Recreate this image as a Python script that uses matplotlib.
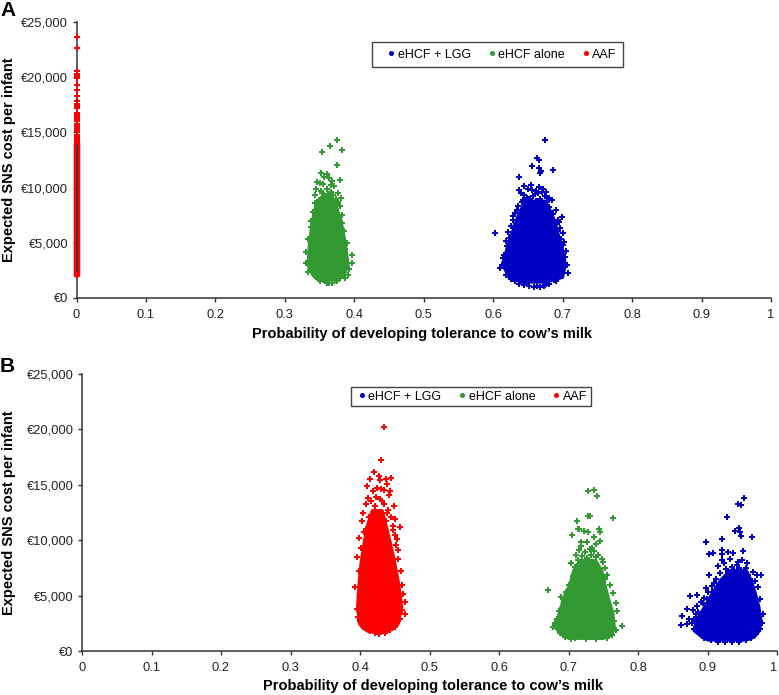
import matplotlib
matplotlib.use('Agg')
import matplotlib.pyplot as plt
from matplotlib.ticker import FuncFormatter

plt.rcParams['font.family'] = ['Liberation Sans', 'DejaVu Sans']

BLUE = '#0000C4'
GREEN = '#339933'
RED = '#FF0000'

tick_x = [0, 0.1, 0.2, 0.3, 0.4, 0.5, 0.6, 0.7, 0.8, 0.9, 1]
tick_y = [0, 5000, 10000, 15000, 20000, 25000]
series_names = ['eHCF + LGG', 'eHCF alone', 'AAF']

# The clouds hold thousands of overlapping points that can't be read one by one.
# The solid middle is kept as read extents (cost, left, right), the loose points are read singly.

# panel A
a_lgg_cost = [1500, 1930, 3140, 4650, 6160, 7600, 8800]
a_lgg_left = [0.640, 0.622, 0.613, 0.620, 0.628, 0.636, 0.646]
a_lgg_right = [0.675, 0.699, 0.703, 0.698, 0.691, 0.684, 0.674]
a_lgg_x = [0.675, 0.663, 0.666, 0.656, 0.666, 0.669, 0.667, 0.686, 0.637, 0.603,
           0.645, 0.650, 0.655, 0.662, 0.671, 0.676, 0.640, 0.637, 0.681, 0.684,
           0.690, 0.699, 0.695, 0.628, 0.632, 0.636, 0.642, 0.650, 0.680, 0.692,
           0.700, 0.705, 0.697, 0.612, 0.610, 0.614, 0.620, 0.618, 0.622, 0.625,
           0.706, 0.708, 0.704, 0.700, 0.694, 0.640, 0.648, 0.663, 0.675, 0.690,
           0.645, 0.652, 0.660, 0.668, 0.674, 0.638, 0.633, 0.656, 0.664, 0.670,
           0.648, 0.643, 0.654, 0.661, 0.669, 0.677, 0.682, 0.630, 0.626, 0.623,
           0.616, 0.628, 0.634, 0.657, 0.653, 0.666, 0.686, 0.693, 0.696, 0.702,
           0.619, 0.625, 0.631, 0.637, 0.644, 0.651, 0.659, 0.667, 0.673, 0.680,
           0.688]
a_lgg_y = [14290, 12680, 12470, 11960, 11810, 11480, 11325, 11600, 10960, 5860,
           10100, 9900, 10200, 9700, 9900, 9600, 9500, 9800, 9100, 8900,
           8000, 7300, 6900, 7100, 7700, 8300, 8700, 8500, 8200, 6800,
           5900, 4300, 5300, 3000, 2700, 3600, 4700, 5200, 6000, 6500,
           3000, 2300, 3700, 4800, 6100, 1500, 1250, 1100, 1150, 1500,
           9300, 9000, 9400, 9000, 9200, 7300, 6700, 9800, 9500, 9600,
           9100, 8900, 8600, 8800, 8500, 8700, 7900, 6300, 5700, 5400,
           3900, 7400, 8000, 9200, 8900, 10050, 7600, 7100, 6300, 5100,
           2100, 1750, 1500, 1300, 1200, 1050, 1000, 1000, 1100, 1300,
           1650]

a_alone_cost = [1700, 2100, 3000, 5000, 7000, 8600, 9300]
a_alone_left = [0.348, 0.340, 0.333, 0.335, 0.339, 0.345, 0.354]
a_alone_right = [0.372, 0.384, 0.390, 0.386, 0.380, 0.372, 0.364]
a_alone_x = [0.3744, 0.3648, 0.3533, 0.383, 0.3744, 0.3518, 0.3614, 0.3570, 0.3634, 0.3680,
             0.3796, 0.3470, 0.3450, 0.3500, 0.3555, 0.3660, 0.3710, 0.3770, 0.3810, 0.3440,
             0.3430, 0.3400, 0.3370, 0.3340, 0.3310, 0.3300, 0.3330, 0.3850, 0.3890, 0.3960,
             0.3965, 0.3930, 0.3910, 0.3870, 0.3640, 0.3580, 0.3720, 0.3480, 0.3820, 0.3790,
             0.3520, 0.3540, 0.3600, 0.3620, 0.3670, 0.3700, 0.3740, 0.3760, 0.3490, 0.3460,
             0.3420, 0.3380, 0.3360, 0.3830, 0.3860, 0.3880, 0.3500, 0.3550, 0.3600, 0.3680,
             0.3750, 0.3800, 0.3440, 0.3390]
a_alone_y = [14340, 13740, 13260, 13410, 12050, 11350, 11250, 10950, 10900, 10600,
             10700, 10500, 9900, 10400, 10300, 10200, 10100, 9500, 9100, 9300,
             8600, 7800, 7000, 5300, 4200, 3200, 2400, 6100, 5000, 3900,
             3160, 2600, 2100, 1850, 1400, 1500, 1600, 1750, 7500, 8300,
             9700, 9500, 9900, 9400, 9600, 9300, 9000, 8700, 8900, 8500,
             7200, 6400, 3700, 6800, 4400, 3400, 1500, 1650, 1350, 1400,
             1550, 1850, 1950, 2400]

a_aaf_cost = [2100, 14000]
a_aaf_left = [-0.002, -0.002]
a_aaf_right = [0.002, 0.002]
a_aaf_x = [0] * 29
a_aaf_y = [14200, 14400, 14600, 14800, 15000, 15200, 15400, 15600, 15800, 16000,
           16200, 16400, 16600, 16800, 17200, 17400, 17600, 17800, 18300, 18800,
           19300, 19900, 20100, 20300, 20600, 22600, 23600, 14100, 2100]

# panel B
b_lgg_cost = [1050, 1300, 1900, 2800, 4000, 5200, 6400, 7300]
b_lgg_left = [0.900, 0.892, 0.880, 0.884, 0.895, 0.906, 0.918, 0.932]
b_lgg_right = [0.955, 0.966, 0.974, 0.976, 0.973, 0.968, 0.962, 0.955]
b_lgg_x = [0.9525, 0.9439, 0.9482, 0.9285, 0.9454, 0.94, 0.9468, 0.9477, 0.9645, 0.9215,
           0.8978, 0.9021, 0.908, 0.9209, 0.9209, 0.9209, 0.93, 0.9372, 0.9324, 0.9515,
           0.9492, 0.9573, 0.9707, 0.9765, 0.8978, 0.9027, 0.8753, 0.8854, 0.87, 0.8633,
           0.8619, 0.871, 0.8790, 0.8740, 0.9060, 0.9120, 0.9180, 0.9260, 0.9100, 0.9000,
           0.8900, 0.8850, 0.8950, 0.9420, 0.9550, 0.9660, 0.9720, 0.9690, 0.9800, 0.9760,
           0.9350, 0.9440, 0.9150, 0.9240, 0.9580, 0.9640, 0.8840, 0.8800, 0.9300, 0.9380,
           0.9460, 0.9520, 0.9280, 0.9210, 0.9130, 0.9070, 0.8990, 0.8930, 0.8870, 0.8830,
           0.8770, 0.8800, 0.8890, 0.8950, 0.9050, 0.9150, 0.9250, 0.9350, 0.9450, 0.9550,
           0.9620, 0.9700, 0.9750, 0.9780]
b_lgg_y = [13840, 13240, 13150, 12120, 11130, 10830, 10770, 10380, 10260, 10080,
           9810, 8790, 8850, 9090, 8720, 8210, 8960, 8870, 8300, 8990,
           8210, 7910, 6860, 6860, 5660, 6860, 4960, 5090, 3760, 3150,
           2340, 2400, 3700, 2900, 5900, 6500, 7000, 7400, 6100, 5300,
           4400, 4100, 4800, 7800, 7500, 7100, 5800, 6300, 3300, 4700,
           7600, 8000, 7700, 7900, 6900, 6300, 3300, 2900, 7000, 7300,
           7500, 7000, 6700, 6300, 5800, 5300, 4700, 4300, 3500, 3000,
           2500, 1950, 1500, 1200, 1000, 850, 800, 800, 850, 950,
           1150, 1500, 2000, 2500]

b_alone_cost = [1200, 1500, 2200, 3400, 4900, 6100, 7300, 8200]
b_alone_left = [0.700, 0.690, 0.680, 0.686, 0.693, 0.702, 0.707, 0.716]
b_alone_right = [0.750, 0.762, 0.765, 0.763, 0.756, 0.751, 0.747, 0.738]
b_alone_x = [0.728, 0.7363, 0.7415, 0.7285, 0.731, 0.7636, 0.7118, 0.7131, 0.7155, 0.7055,
             0.7217, 0.7286, 0.7443, 0.7458, 0.7372, 0.7183, 0.7271, 0.746, 0.7394, 0.670,
             0.7775, 0.7036, 0.6970, 0.6890, 0.6860, 0.6930, 0.6830, 0.7000, 0.7070, 0.7040,
             0.7110, 0.7150, 0.7240, 0.7310, 0.7360, 0.7420, 0.7480, 0.7520, 0.7550, 0.7590,
             0.7640, 0.7680, 0.7700, 0.7660, 0.7680, 0.7130, 0.7200, 0.7500, 0.7340, 0.7180,
             0.7260, 0.7330, 0.7400, 0.7090, 0.7450, 0.7520, 0.6960, 0.6900, 0.6800, 0.6780,
             0.6880, 0.6950, 0.7100, 0.7250, 0.7400, 0.7550, 0.7630]
b_alone_y = [14470, 14530, 13950, 12150, 12150, 11970, 11700, 11000, 11000, 10500,
             10830, 10710, 11030, 10710, 10320, 9810, 9870, 9920, 9650, 5530,
             2220, 1083, 5300, 4900, 3600, 4500, 2900, 6000, 6800, 7900,
             8700, 9100, 8900, 9200, 9000, 8700, 8300, 7500, 6900, 6000,
             5200, 4300, 3600, 2700, 1900, 8200, 8600, 8000, 9300, 9500,
             8400, 8700, 8500, 7600, 7400, 6500, 4700, 3900, 2500, 2200,
             1600, 1300, 1150, 1100, 1100, 1150, 1400]

b_aaf_cost = [1800, 2100, 2500, 4000, 6000, 8000, 10000, 11500, 12700]
b_aaf_left = [0.412, 0.404, 0.399, 0.396, 0.398, 0.401, 0.406, 0.411, 0.417]
b_aaf_right = [0.438, 0.448, 0.454, 0.459, 0.455, 0.449, 0.442, 0.436, 0.431]
b_aaf_x = [0.435, 0.430, 0.4446, 0.4374, 0.4288, 0.4384, 0.4432, 0.43, 0.4417, 0.4494,
           0.4317, 0.4400, 0.4510, 0.4576, 0.4652, 0.4648, 0.4586, 0.4551, 0.4530, 0.4600,
           0.4620, 0.4440, 0.4500, 0.4150, 0.4200, 0.4100, 0.4180, 0.4230, 0.4080, 0.4050,
           0.4030, 0.3990, 0.3960, 0.3930, 0.3950, 0.4120, 0.4250, 0.4270, 0.4350, 0.4480,
           0.4160, 0.4220, 0.4290, 0.4340, 0.4390, 0.4130, 0.4090, 0.4060, 0.4010, 0.3980,
           0.3970, 0.4000, 0.4070, 0.4140, 0.4210, 0.4280, 0.4360, 0.4430, 0.4500, 0.4570,
           0.4610, 0.4470, 0.4520, 0.4540, 0.4380]
b_aaf_y = [20190, 17260, 15640, 15550, 15400, 15070, 14440, 14620, 14080, 13090,
           13540, 12700, 11900, 11220, 3310, 4400, 7250, 9090, 10100, 6000,
           5100, 12100, 10500, 15500, 16200, 14900, 14400, 13900, 13300, 12500,
           11700, 10200, 8500, 5800, 3800, 13800, 14700, 15800, 13300, 11300,
           13500, 13100, 13700, 14500, 12500, 12100, 11000, 10700, 9300, 7200,
           3100, 2700, 2200, 1800, 1600, 1550, 1650, 1900, 2200, 2900,
           3700, 10900, 9600, 8300, 11700]


def draw_panel(ax, clouds):
    for cost, left, right, px, py, colour in clouds:
        ax.fill_betweenx(cost, left, right, color=colour, linewidth=2.5, clip_on=False, zorder=2)
        ax.scatter(px, py, marker='P', s=17, color=colour, linewidths=0, clip_on=False, zorder=3)


def style_axes(ax):
    ax.set_xlim(0, 1)
    ax.set_ylim(0, 25000)
    ax.set_xticks(tick_x)
    ax.set_xticklabels([str(t) for t in tick_x])
    ax.set_yticks(tick_y)
    ax.yaxis.set_major_formatter(FuncFormatter(lambda v, p: '€{:,.0f}'.format(v)))
    for side in ['top', 'right']:
        ax.spines[side].set_visible(False)
    for side in ['left', 'bottom']:
        ax.spines[side].set_linewidth(1.1)
        ax.spines[side].set_color('#333333')
    ax.tick_params(axis='both', labelsize=9.3, length=3, width=1.0, color='#333333',
                   labelcolor='#222222')
    ax.tick_params(axis='x', pad=5)
    ax.tick_params(axis='y', pad=3)


def add_legend(fig, ax, colours, box, hlen, tpad, bpad):
    handles = [plt.Line2D([], [], linestyle='none', marker='o', markersize=2.6, color=c) for c in colours]
    leg = ax.legend(handles, series_names, ncol=3, loc='center', bbox_to_anchor=box,
                    bbox_transform=fig.transFigure, mode='expand', fontsize=9,
                    fancybox=False, framealpha=1, edgecolor='#444444', borderaxespad=0,
                    handletextpad=tpad, columnspacing=0.1, borderpad=bpad, handlelength=hlen)
    leg.get_frame().set_linewidth(1.0)


W, H = 779, 695
fig = plt.figure(figsize=(W / 100, H / 100), dpi=100)
ax_a = fig.add_axes([76.5 / W, 1 - 298 / H, 694.5 / W, 276 / H])
ax_b = fig.add_axes([82 / W, 1 - 651 / H, 695 / W, 277 / H])

draw_panel(ax_a, [
    (a_lgg_cost, a_lgg_left, a_lgg_right, a_lgg_x, a_lgg_y, BLUE),
    (a_alone_cost, a_alone_left, a_alone_right, a_alone_x, a_alone_y, GREEN),
    (a_aaf_cost, a_aaf_left, a_aaf_right, a_aaf_x, a_aaf_y, RED),
])
draw_panel(ax_b, [
    (b_lgg_cost, b_lgg_left, b_lgg_right, b_lgg_x, b_lgg_y, BLUE),
    (b_alone_cost, b_alone_left, b_alone_right, b_alone_x, b_alone_y, GREEN),
    (b_aaf_cost, b_aaf_left, b_aaf_right, b_aaf_x, b_aaf_y, RED),
])

style_axes(ax_a)
style_axes(ax_b)
# the last label sits against the right edge of the picture
ax_b.get_xticklabels()[-1].set_ha('right')

add_legend(fig, ax_a, [BLUE, GREEN, RED], (372 / W, 1 - 66 / H, 251 / W, 23 / H), 2.1, -0.5, 0.5)
add_legend(fig, ax_b, [BLUE, GREEN, RED], (351 / W, 1 - 406 / H, 240 / W, 19 / H), 1.1, 0.0, 0.3)

ylabel = 'Expected SNS cost per infant'
xlabel = 'Probability of developing tolerance to cow’s milk'
fig.text(9 / W, 1 - 160 / H, ylabel, fontsize=10.5, fontweight='bold', rotation=90, ha='center', va='center')
fig.text(9 / W, 1 - 513 / H, ylabel, fontsize=10.5, fontweight='bold', rotation=90, ha='center', va='center')
fig.text(422 / W, 1 - 334 / H, xlabel, fontsize=10.5, fontweight='bold', ha='center', va='center')
fig.text(433 / W, 1 - 686 / H, xlabel, fontsize=10.5, fontweight='bold', ha='center', va='center')

fig.text(0 / W, 1 - 10 / H, 'A', fontsize=15, fontweight='bold', va='center')
fig.text(0 / W, 1 - 367 / H, 'B', fontsize=15, fontweight='bold', va='center')

fig.savefig('out.png', dpi=100)
